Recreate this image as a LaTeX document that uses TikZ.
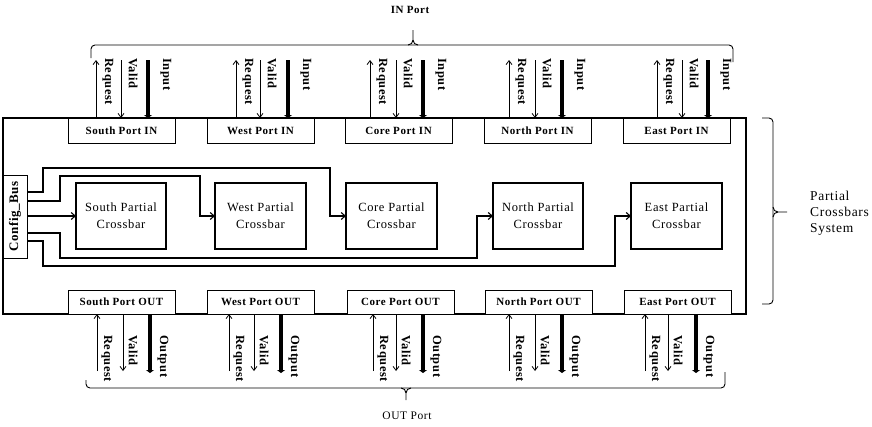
\documentclass[tikz,border=0pt]{standalone}
\usepackage{fontspec}
\setmainfont{Liberation Serif}[LetterSpace=5]
\usetikzlibrary{arrows.meta}
\begin{document}
\begin{tikzpicture}[x=1pt,y=-1pt,
  port/.style={draw, line width=0.7pt, fill=white, minimum width=107pt, minimum height=25pt,
    inner sep=0pt, outer sep=0pt, anchor=north west, font=\bfseries\fontsize{11}{12}\selectfont},
  xbar/.style={draw, line width=1.3pt, minimum width=90pt, minimum height=66pt, inner sep=0pt,
    outer sep=0pt, align=center, anchor=north west, font=\fontsize{12.5}{17}\selectfont},
  lab/.style={rotate=-90, anchor=west, inner sep=0pt, font=\bfseries\fontsize{12.5}{14}\selectfont},
  sig/.style={line width=0.8pt, -{Straight Barb[length=4pt,width=6pt]}},
  bigsig/.style={line width=4.5pt, -{Triangle[length=3pt,width=8pt]}},
  bus/.style={line width=1.1pt, -{Straight Barb[length=4pt,width=7pt]}},
  brace/.style={line width=0.9pt, rounded corners=4pt},
  tick/.style={line width=0.9pt}]
\useasboundingbox (0,0) rectangle (872,426);

% main system box
\node[draw, line width=1.1pt, minimum width=743pt, minimum height=196pt, anchor=north west,
  inner sep=0pt, outer sep=0pt] (sys) at (3,118) {};

% IN ports
\node[port] (sin) at (68,118) {South Port IN};
\node[port] (win) at (207,118) {West Port IN};
\node[port] (cin) at (345,118) {Core Port IN};
\node[port] (nin) at (484,118) {North Port IN};
\node[port] (ein) at (623,118) {East Port IN};

% OUT ports
\node[port, minimum height=24pt] (sout) at (68,290) {South Port OUT};
\node[port, minimum height=24pt] (wout) at (207,290) {West Port OUT};
\node[port, minimum height=24pt] (cout) at (347,290) {Core Port OUT};
\node[port, minimum height=24pt] (nout) at (485,290) {North Port OUT};
\node[port, minimum height=24pt] (eout) at (624,290) {East Port OUT};

% crossbars
\node[xbar] (sxc) at (76,183) {South Partial\\Crossbar};
\node[xbar, minimum width=91pt] (wxc) at (215,183) {West Partial\\Crossbar};
\node[xbar, minimum width=91pt] (cxc) at (346,183) {Core Partial\\Crossbar};
\node[xbar] (nxc) at (493,183) {North Partial\\Crossbar};
\node[xbar, minimum width=91pt] (exc) at (631,183) {East Partial\\Crossbar};

% config bus
\node[draw, line width=1pt, fill=white, minimum width=24pt, minimum height=83pt, anchor=north west,
  inner sep=0pt, outer sep=0pt, font=\bfseries\fontsize{13}{14}\selectfont] (cfg) at (3,175)
  {\rotatebox{90}{Config\_Bus}};

% bus lines
\draw[bus] (cfg.east) ++(0,-24.5) -- (43,192) -- (43,168) -- (330,168) -- (330,216) -- (cxc.west);
\draw[bus] (cfg.east) ++(0,-15.5) -- (60,201) -- (60,176) -- (200,176) -- (200,216) -- (wxc.west);
\draw[bus] (cfg.east |- sxc.west) -- (sxc.west);
\draw[bus] (cfg.east) ++(0,16.5) -- (60,233) -- (60,258) -- (477,258) -- (477,216) -- (nxc.west);
\draw[bus] (cfg.east) ++(0,24.5) -- (43,241) -- (43,266) -- (615,266) -- (615,216) -- (exc.west);

% IN signals
\foreach \p/\a/\b/\c in {sin/28/53/80, win/29/53/81, cin/25/51/78, nin/25/51/78, ein/34/59/85} {
  \draw[sig] ([xshift=\a pt]\p.north west) -- ++(0,-58);
  \draw[sig] ([xshift=\b pt]\p.north west) ++(0,-58) -- ++(0,58);
  \draw[bigsig] ([xshift=\c pt]\p.north west) ++(0,-58) -- ++(0,58);
  \node[lab] at ([xshift={(\a+12)*1pt}, yshift=60pt]\p.north west) {Request};
  \node[lab] at ([xshift={(\b+12)*1pt}, yshift=60pt]\p.north west) {Valid};
  \node[lab] at ([xshift={(\c+18)*1pt}, yshift=60pt]\p.north west) {Input};
}

% OUT signals
\foreach \p/\a/\b/\c in {sout/29/55/82, wout/22/47/74, cout/26/49/76, nout/24/50/77, eout/21/44/72} {
  \draw[sig] ([xshift=\a pt]\p.south west) ++(0,57) -- ++(0,-57);
  \draw[sig] ([xshift=\b pt]\p.south west) -- ++(0,57);
  \draw[bigsig] ([xshift=\c pt]\p.south west) -- ++(0,59);
  \node[lab] at ([xshift={(\a+10)*1pt}, yshift=-21pt]\p.south west) {Request};
  \node[lab] at ([xshift={(\b+10)*1pt}, yshift=-21pt]\p.south west) {Valid};
  \node[lab] at ([xshift={(\c+13)*1pt}, yshift=-21pt]\p.south west) {Output};
}

% braces
\draw[brace] (91,58) -- (91,45) -- (733,45) -- (733,62);
\draw[tick] (408,45) to[out=0,in=-90] (413,40) -- (413,30);
\draw[tick] (418,45) to[out=180,in=-90] (413,40);

\draw[brace] (86,380) -- (86,388) -- (725,388) -- (725,372);
\draw[tick] (401,388) to[out=0,in=90] (406,393) -- (406,400);
\draw[tick] (411,388) to[out=180,in=90] (406,393);

\draw[brace] (762,118) -- (773,118) -- (773,304) -- (762,304);
\draw[tick] (773,207) to[out=-90,in=180] (778,212) -- (787,212);
\draw[tick] (773,217) to[out=90,in=180] (778,212);

% labels
\node[font=\bfseries\fontsize{11}{12}\selectfont] (inlbl) at (410,10) {IN Port};
\node[font=\fontsize{11.5}{12}\selectfont] (outlbl) at (407,416) {OUT Port};
\node[anchor=west, align=left, inner sep=0pt, font=\fontsize{13.5}{16}\selectfont] (pcs) at (810,213)
  {Partial\\Crossbars\\System};
\end{tikzpicture}
\end{document}
